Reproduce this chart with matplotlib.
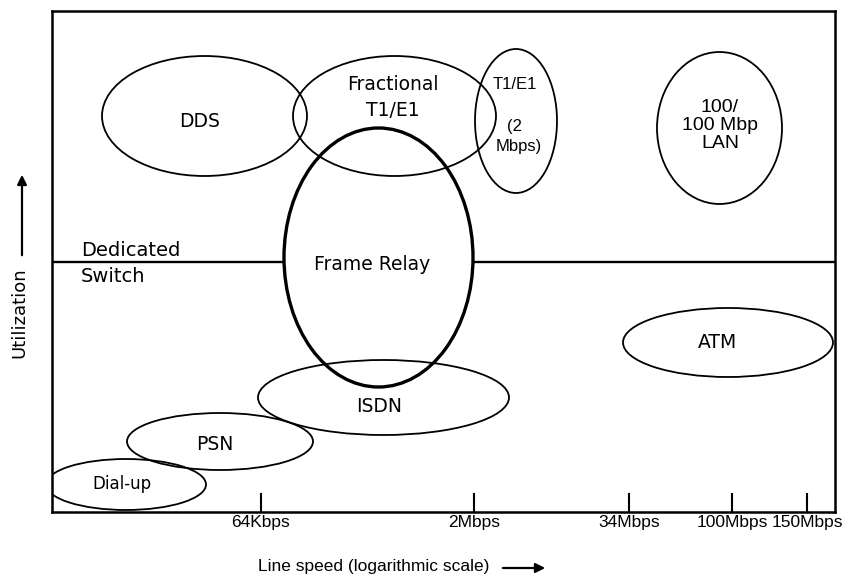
import matplotlib.pyplot as plt
from matplotlib.patches import Ellipse

# ellipses: label, centre (speed, utilization), width, height
names = ["DDS", "Fractional", "T1/E1", "LAN", "Frame Relay", "ISDN", "PSN", "Dial-up", "ATM"]
cx = [152.5, 342.5, 464, 667.5, 326.5, 331.5, 168, 74, 676]
cy = [396, 396, 391, 384, 254.5, 114.5, 70.5, 27.5, 169.5]
ew = [205, 203, 82, 125, 189, 251, 186, 160, 210]
eh = [120, 120, 144, 152, 259, 75, 57, 51, 69]

tick_pos = [209, 422, 577, 680, 755]
tick_labels = ["64Kbps", "2Mbps", "34Mbps", "100Mbps", "150Mbps"]

divider = 250

fig = plt.figure(figsize=(8.48, 5.84), dpi=100)
ax = fig.add_axes([52/848, 72/584, 783/848, 501/584])
ax.set_xlim(0, 783)
ax.set_ylim(0, 501)

for s in ax.spines.values():
    s.set_linewidth(1.8)

# divider between dedicated and switched
ax.axhline(divider, color="black", lw=1.7, zorder=1)

for i, n in enumerate(names):
    if n == "Frame Relay":
        e = Ellipse((cx[i], cy[i]), ew[i], eh[i], facecolor="white",
                    edgecolor="black", lw=2.4, zorder=2)
    else:
        e = Ellipse((cx[i], cy[i]), ew[i], eh[i], fill=False,
                    edgecolor="black", lw=1.3, zorder=3)
    ax.add_patch(e)

main = dict(fontsize=13.5, family="DejaVu Sans", ha="center", va="center", zorder=4)
helv = dict(family="Liberation Sans", ha="center", va="center", zorder=4)

ax.text(148, 391, "DDS", **main)
ax.text(341, 428, "Fractional", **main)
ax.text(341, 402, "T1/E1", **main)
ax.text(320, 248, "Frame Relay", **main)
ax.text(327, 105, "ISDN", **main)
ax.text(163, 67, "PSN", **main)
ax.text(70, 28, "Dial-up", fontsize=12, family="DejaVu Sans", ha="center", va="center")
ax.text(665, 169, "ATM", **main)
ax.text(29, 262, "Dedicated", fontsize=14, family="DejaVu Sans", ha="left", va="center")
ax.text(29, 235, "Switch", fontsize=14, family="DejaVu Sans", ha="left", va="center")

ax.text(463, 428, "T1/E1", fontsize=12, **helv)
ax.text(463, 386, "(2", fontsize=12, **helv)
ax.text(467, 366, "Mbps)", fontsize=12, **helv)
ax.text(668, 405, "100/", fontsize=14, **helv)
ax.text(668, 387, "100 Mbp", fontsize=14, **helv)
ax.text(668, 369, "LAN", fontsize=14, **helv)

ax.set_xticks(tick_pos)
ax.set_xticklabels(tick_labels, fontsize=12.5, family="Liberation Sans")
ax.tick_params(axis="x", direction="in", length=14, width=1.5, pad=2)
ax.set_yticks([])

# axis titles with arrows
ax.text(322, -55, "Line speed (logarithmic scale)", fontsize=12.5,
        family="Liberation Sans", ha="center", va="center", clip_on=False)
ax.annotate("", xy=(496, -56), xytext=(448, -56), annotation_clip=False,
            arrowprops=dict(arrowstyle="-|>", lw=1.6, color="black", mutation_scale=14))
ax.text(-33, 199, "Utilization", fontsize=13, family="DejaVu Sans", rotation=90,
        ha="center", va="center", clip_on=False)
ax.annotate("", xy=(-30, 340), xytext=(-30, 254), annotation_clip=False,
            arrowprops=dict(arrowstyle="-|>", lw=1.6, color="black", mutation_scale=14))

fig.savefig("out.png", dpi=100)
